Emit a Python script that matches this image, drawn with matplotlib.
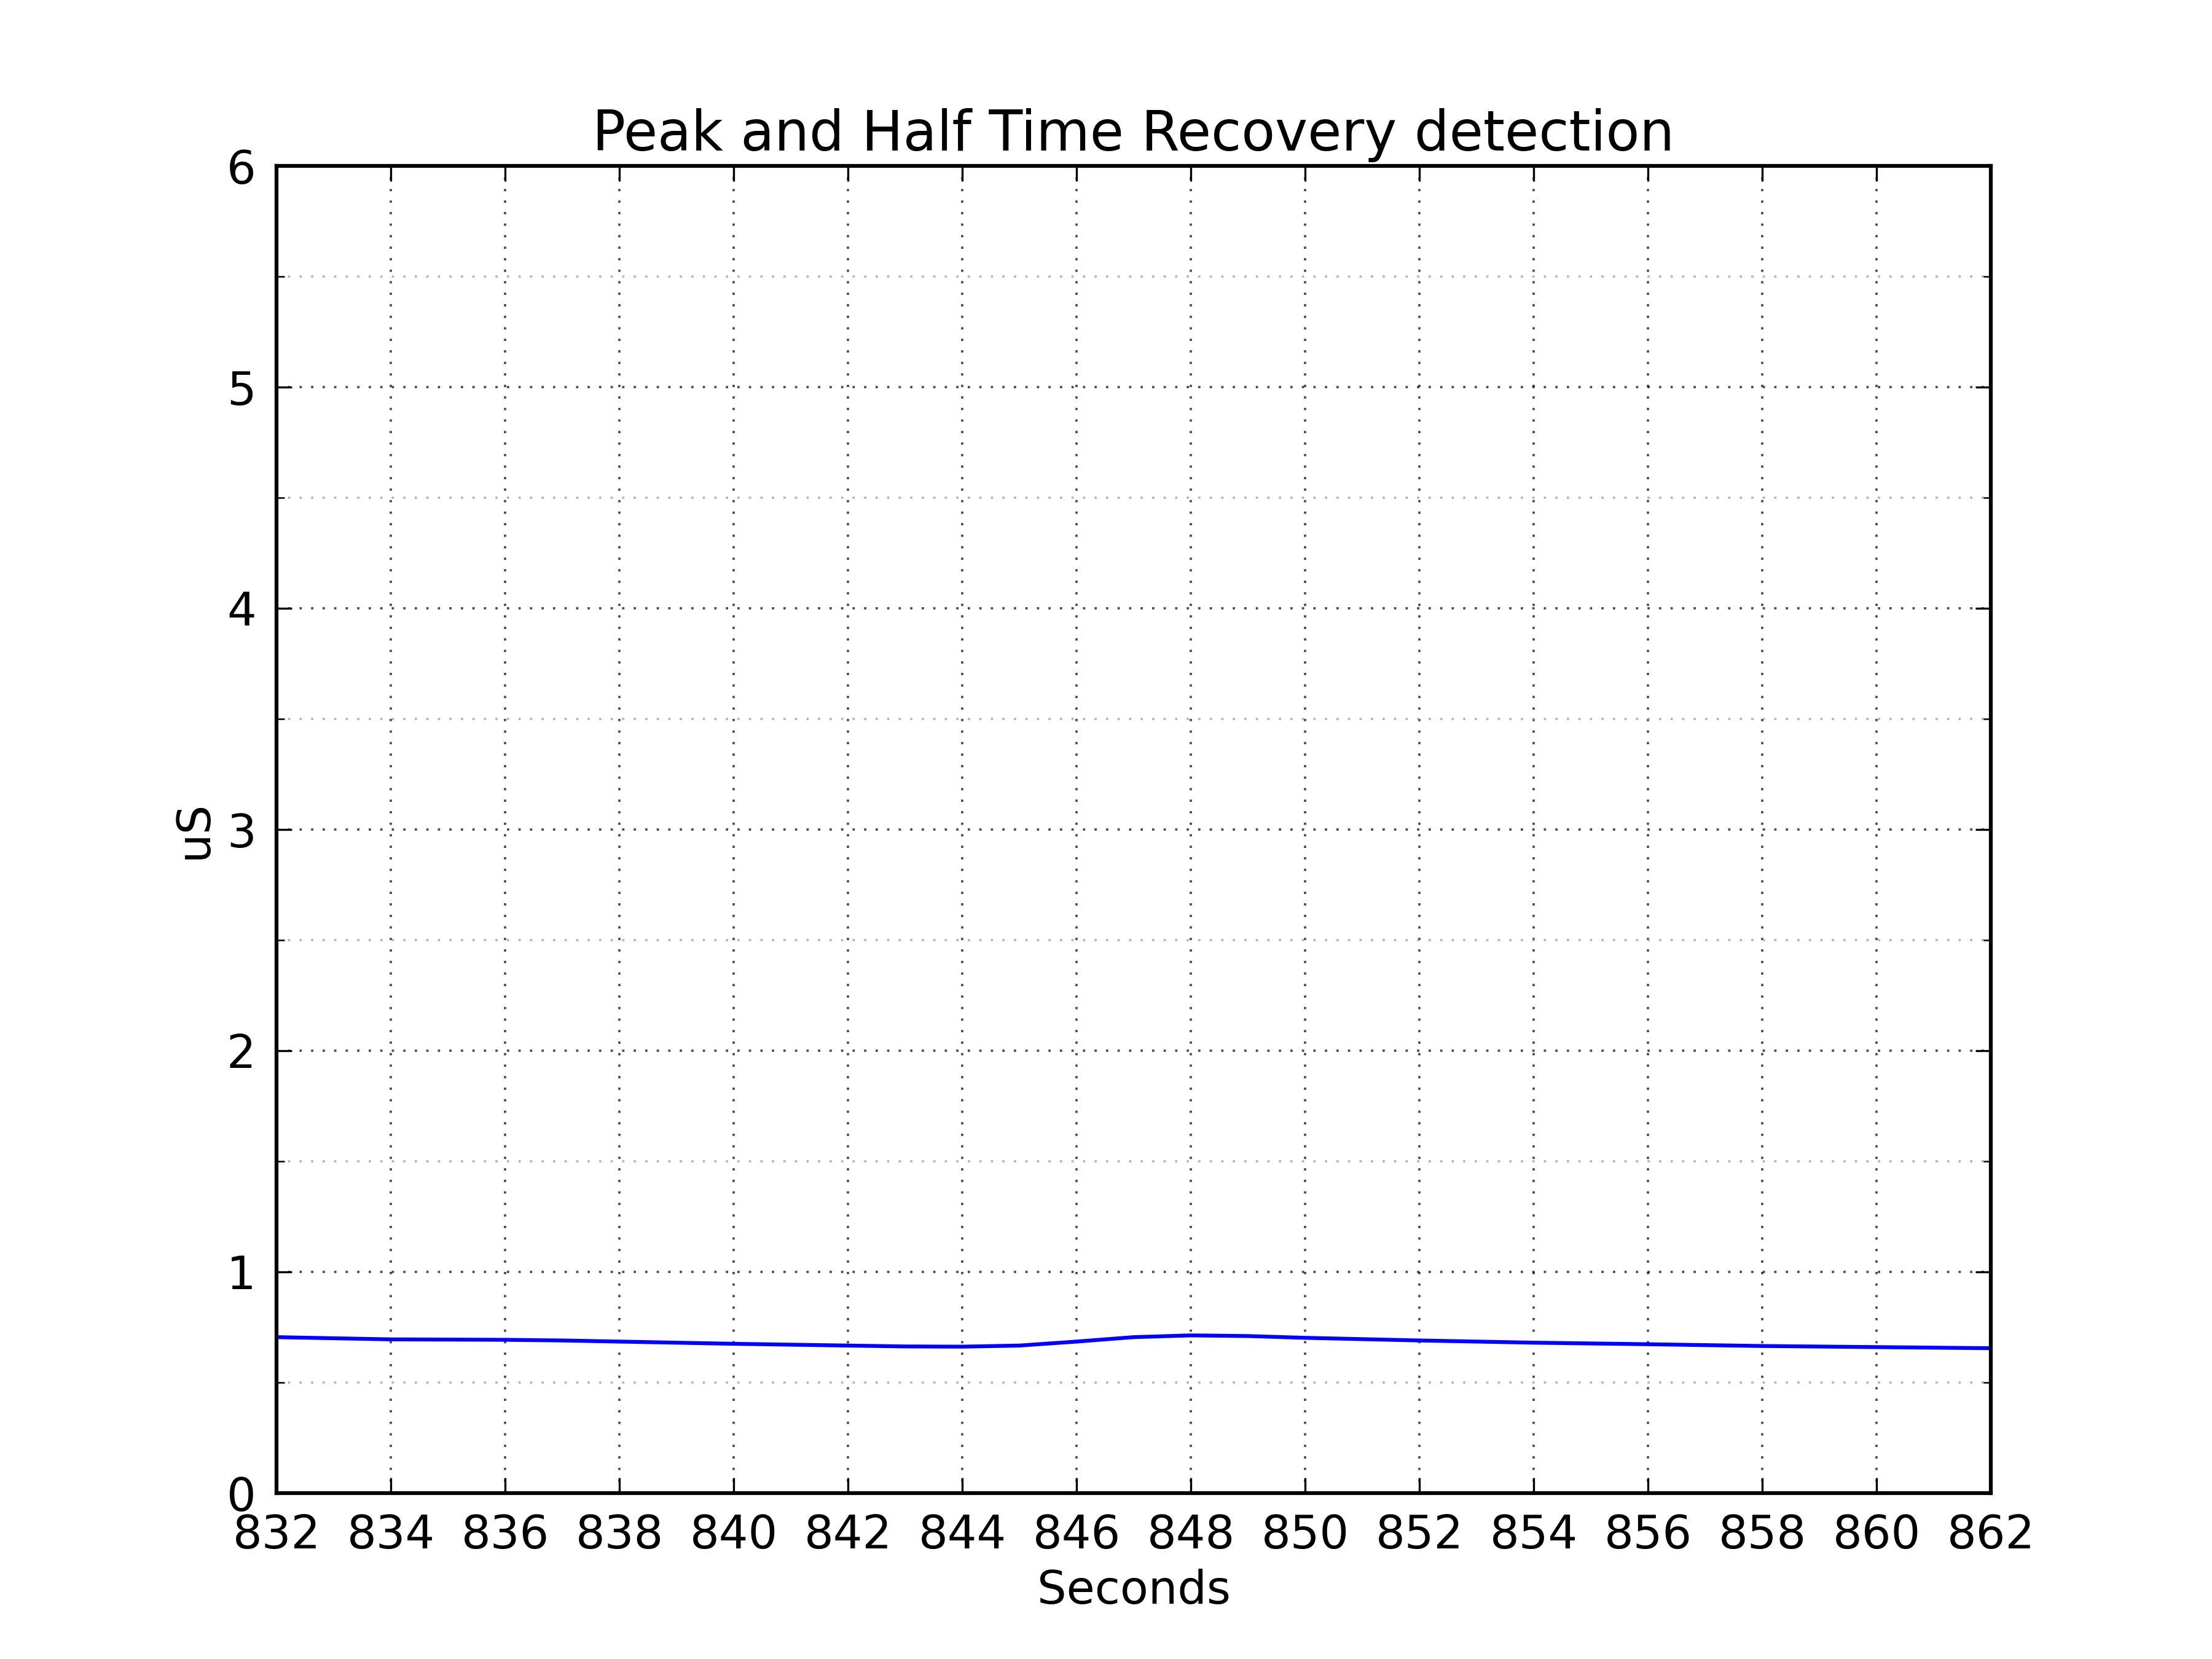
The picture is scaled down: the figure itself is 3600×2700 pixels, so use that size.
import numpy as np
import matplotlib
matplotlib.use("Agg")
import matplotlib.pyplot as plt
from matplotlib.ticker import MultipleLocator

seconds = [832, 834, 836, 837, 838, 840, 842, 843, 844, 845, 846, 847, 848, 849, 850, 852, 854, 856, 858, 860, 862]
conductance = [0.705, 0.695, 0.693, 0.690, 0.685, 0.675, 0.667, 0.663, 0.662, 0.667, 0.685, 0.705, 0.713, 0.710, 0.702, 0.690, 0.680, 0.673, 0.665, 0.660, 0.655]

fig = plt.figure(figsize=(12, 9), dpi=300)
ax = fig.add_axes([0.125, 0.1, 0.775, 0.8])
ax.plot(seconds, conductance, color="blue", linewidth=1.5)

ax.set_xlim(832, 862)
ax.set_ylim(0, 6)
ax.xaxis.set_major_locator(MultipleLocator(2))
ax.yaxis.set_major_locator(MultipleLocator(1))
ax.yaxis.set_minor_locator(MultipleLocator(0.5))
ax.grid(True, which="major", color="black", linestyle=(0, (1, 4)), linewidth=0.9, alpha=0.7)
ax.grid(True, which="minor", axis="y", color="0.6", linestyle=(0, (1, 4)), linewidth=0.9, alpha=0.7)
ax.tick_params(which="both", direction="in", top=True, right=True, labelsize=18, pad=8)
ax.tick_params(which="major", length=6)
ax.tick_params(which="minor", length=3)
for s in ax.spines.values():
    s.set_linewidth(1.5)

ax.set_title("Peak and Half Time Recovery detection", fontsize=21.5)
ax.set_xlabel("Seconds", fontsize=18)
ax.set_ylabel("uS", fontsize=18)

fig.savefig("out.png", dpi=300)
